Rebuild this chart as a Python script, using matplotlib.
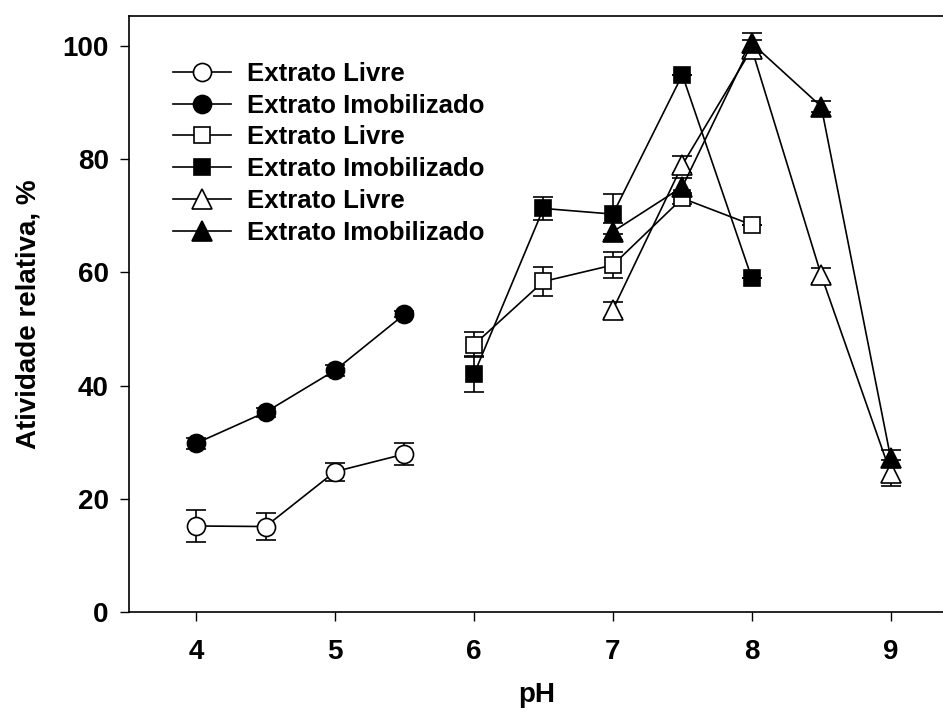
import matplotlib
matplotlib.use("Agg")
import matplotlib.pyplot as plt

plt.rcParams['font.family'] = ['Liberation Sans', 'DejaVu Sans']
plt.rcParams['font.weight'] = 'bold'

# tampao citrato (circulos)
ph_cit = [4.0, 4.5, 5.0, 5.5]
livre_cit = [15.2, 15.1, 24.8, 27.9]
livre_cit_err = [2.9, 2.4, 1.6, 1.9]
imob_cit = [29.8, 35.3, 42.7, 52.6]
imob_cit_err = [1.0, 0.8, 1.0, 0.5]

# tampao fosfato (quadrados)
ph_fos = [6.0, 6.5, 7.0, 7.5, 8.0]
livre_fos = [47.2, 58.4, 61.3, 73.1, 68.4]
livre_fos_err = [2.2, 2.5, 2.3, 1.0, 0.0]
imob_fos = [42.0, 71.3, 70.3, 94.9, 59.0]
imob_fos_err = [3.2, 2.1, 3.5, 0.0, 0.0]

# tampao tris (triangulos)
ph_tris = [7.0, 7.5, 8.0, 8.5, 9.0]
livre_tris = [53.4, 79.0, 99.5, 59.5, 24.5]
livre_tris_err = [1.4, 1.5, 1.5, 1.3, 2.3]
imob_tris = [67.2, 75.1, 100.5, 89.3, 27.2]
imob_tris_err = [1.5, 1.5, 1.8, 1.0, 1.5]

rotulo_livre = "Extrato Livre"
rotulo_imob = "Extrato Imobilizado"

fig = plt.figure(figsize=(9.43, 7.17), dpi=100)
ax = fig.add_axes([129 / 943, 1 - 612 / 717, 1 - 129 / 943 + 0.002, (612 - 16) / 717])

series = [
    (ph_cit, livre_cit, livre_cit_err, 'o', 'white', 13, rotulo_livre),
    (ph_cit, imob_cit, imob_cit_err, 'o', 'black', 13, rotulo_imob),
    (ph_fos, livre_fos, livre_fos_err, 's', 'white', 12, rotulo_livre),
    (ph_fos, imob_fos, imob_fos_err, 's', 'black', 12, rotulo_imob),
    (ph_tris, livre_tris, livre_tris_err, '^', 'white', 14, rotulo_livre),
    (ph_tris, imob_tris, imob_tris_err, '^', 'black', 14, rotulo_imob),
]

handles = []
for x, y, e, m, fc, ms, lab in series:
    ax.errorbar(x, y, yerr=e, fmt='none', ecolor='black', elinewidth=1.2,
                capsize=7, capthick=1.2, zorder=2)
    h, = ax.plot(x, y, color='black', lw=1.2, marker=m, markersize=ms,
                 markerfacecolor=fc, markeredgecolor='black',
                 markeredgewidth=1.2, label=lab, zorder=3)
    handles.append(h)

ax.set_xlim(3.517, 9.39)
ax.set_ylim(0, 105.3)
ax.set_xticks([4, 5, 6, 7, 8, 9])
ax.set_yticks([0, 20, 40, 60, 80, 100])
ax.tick_params(direction='out', length=6.5, width=1.0, labelsize=20)
ax.tick_params(axis='x', pad=13)
ax.tick_params(axis='y', pad=8)
ax.spines['right'].set_visible(False)
for s in ['left', 'bottom', 'top']:
    ax.spines[s].set_linewidth(1.2)

ax.set_xlabel('pH', fontsize=20, fontweight='bold', labelpad=12)
ax.set_ylabel('Atividade relativa, %', fontsize=20, fontweight='bold', labelpad=15)

leg = ax.legend(handles=handles, loc='upper left',
                bbox_to_anchor=(173 / 943, 1 - 62 / 717),
                bbox_transform=fig.transFigure, frameon=False,
                fontsize=18.5, labelspacing=0.3, handlelength=2.27,
                handletextpad=0.62, borderpad=0, borderaxespad=0)

fig.savefig('out.png', dpi=100)
